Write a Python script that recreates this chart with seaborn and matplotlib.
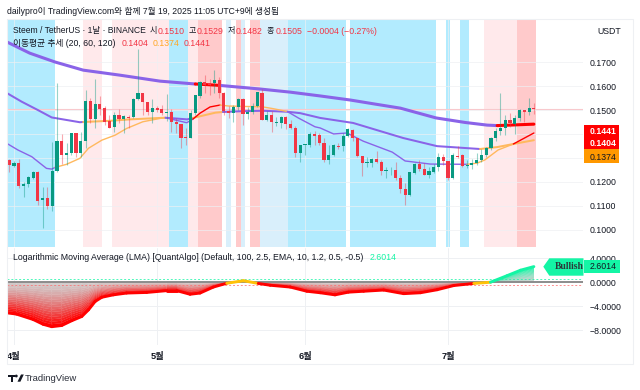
import numpy as np
import pandas as pd
import seaborn as sns
import matplotlib
matplotlib.use("Agg")
import matplotlib.pyplot as plt
from matplotlib.collections import PolyCollection, LineCollection
from matplotlib.patches import Rectangle, Polygon, Circle

sns.set_theme(style="white")
FAM = ["Liberation Sans", "Noto Sans CJK KR"]
plt.rcParams["font.family"] = FAM

# ---- candles: day index 0 = 31 Mar, 1 = 1 Apr ... 110 = 19 Jul
opens = [.1289,.1266,.1278,.1183,.1190,.1215,.1239,.1123,.1132,.1098,.1245,.1370,.1314,.1319,.1402,.1321,.1369,.1536,.1461,.1524,
         .1510,.1453,.1430,.1479,.1462,.1472,.1469,.1545,.1570,.1535,.1493,.1507,.1503,.1486,.1490,.1451,.1441,.1386,.1384,.1486,
         .1560,.1619,.1613,.1612,.1626,.1573,.1496,.1486,.1511,.1545,.1483,.1493,.1517,.1573,.1458,.1479,.1444,.1447,.1469,.1440,
         .1426,.1321,.1354,.1354,.1398,.1395,.1363,.1291,.1314,.1351,.1351,.1393,.1416,.1381,.1308,.1280,.1280,.1294,.1281,.1246,
         .1248,.1250,.1214,.1169,.1144,.1235,.1274,.1252,.1228,.1242,.1263,.1305,.1287,.1217,.1309,.1312,.1268,.1270,.1280,.1291,
         .1312,.1342,.1381,.1412,.1426,.1458,.1441,.1465,.1500,.1490,.1510]
highs = [.1294,.1285,.1294,.1197,.1224,.1245,.1245,.1176,.1179,.1367,.1613,.1400,.1363,.1402,.1402,.1408,.1584,.1549,.1628,.1560,
         .1515,.1479,.1490,.1503,.1479,.1479,.1549,.1755,.1570,.1535,.1545,.1517,.1521,.1566,.1503,.1465,.1441,.1423,.1500,.1563,
         .1621,.1646,.1632,.1667,.1639,.1577,.1517,.1521,.1552,.1552,.1511,.1528,.1577,.1587,.1497,.1497,.1472,.1476,.1475,.1458,
         .1433,.1354,.1358,.1409,.1414,.1402,.1381,.1354,.1356,.1361,.1402,.1423,.1420,.1384,.1308,.1302,.1301,.1327,.1291,.1260,
         .1260,.1281,.1228,.1193,.1242,.1277,.1291,.1277,.1263,.1273,.1319,.1315,.1287,.1319,.1351,.1315,.1291,.1295,.1319,.1335,
         .1347,.1388,.1423,.1570,.1479,.1486,.1479,.1504,.1500,.1549,.1529]
lows = [.1242,.1260,.1174,.1135,.1179,.1210,.1104,.1008,.1084,.1079,.1242,.1274,.1270,.1314,.1305,.1305,.1340,.1444,.1426,.1479,
        .1437,.1423,.1409,.1444,.1405,.1427,.1465,.1542,.1479,.1479,.1447,.1493,.1479,.1455,.1409,.1402,.1340,.1354,.1381,.1479,
        .1549,.1570,.1563,.1570,.1549,.1479,.1468,.1451,.1500,.1437,.1461,.1482,.1511,.1458,.1455,.1409,.1433,.1427,.1420,.1419,
        .1305,.1284,.1312,.1344,.1354,.1354,.1281,.1274,.1309,.1335,.1330,.1388,.1372,.1302,.1224,.1263,.1263,.1280,.1228,.1217,
        .1228,.1207,.1151,.1103,.1142,.1232,.1246,.1228,.1214,.1238,.1245,.1270,.1207,.1211,.1298,.1263,.1259,.1253,.1270,.1284,
        .1305,.1333,.1370,.1395,.1395,.1430,.1398,.1454,.1451,.1479,.1482]
closes = [.1270,.1278,.1183,.1190,.1218,.1239,.1121,.1132,.1098,.1246,.1370,.1314,.1320,.1402,.1321,.1369,.1536,.1461,.1525,.1506,
          .1450,.1427,.1479,.1461,.1475,.1468,.1546,.1570,.1532,.1493,.1507,.1500,.1486,.1493,.1448,.1440,.1381,.1381,.1486,.1563,
          .1619,.1605,.1603,.1626,.1570,.1497,.1488,.1514,.1545,.1482,.1493,.1517,.1574,.1458,.1479,.1448,.1451,.1472,.1440,.1423,
          .1321,.1354,.1358,.1398,.1391,.1363,.1291,.1314,.1354,.1347,.1393,.1419,.1381,.1308,.1277,.1284,.1294,.1281,.1243,.1250,
          .1250,.1214,.1169,.1144,.1239,.1273,.1252,.1228,.1246,.1263,.1305,.1287,.1217,.1312,.1305,.1266,.1272,.1280,.1291,.1312,
          .1342,.1381,.1412,.1426,.1458,.1444,.1465,.1500,.1493,.1507,.1505]

# ---- background regimes (first day, last day, kind)
zone_first = [0,10,16,20,22,34,38,40,45,46,47,48,49,50,51,53,59,71,72,90,92,93,95,97,100,107]
zone_last  = [9,15,19,21,33,37,39,44,45,46,47,48,49,50,52,58,70,71,89,91,92,94,96,99,106,110]
zone_kind  = ["b","w","l","w","l","b","l","s","w","p","w","s","p","w","s","p","b","w","b","w","b","w","b","w","l","s"]

# ---- moving averages, read as (day, price) vertices; colour per segment
ma120_x = [-.5,4.3,9.6,15.5,23.2,31.6,39,44.2,52.6,58.9,65.2,71.5,76.7,82,89.5,95.6,100.2,102.3,110]
ma120_y = [.1785,.1738,.1701,.1667,.1646,.1621,.1609,.1603,.1588,.1575,.1559,.1542,.1525,.1508,.1467,.1448,.1437,.1435,.1441]
ma120_c = ["p"]*6+["r"]+["p"]*10+["r"]

ma60_x = [-.5,2.6,6,8.9,14.8,15.5,21.1,25.3,32.7,37.3,38.5,43.2,44.8,48.4,53.2,58.3,61,65.2,72.1,82.6,89.7,98.7,102.3,105.7,110]
ma60_y = [.1571,.1535,.1500,.1469,.1449,.1450,.1455,.1461,.1468,.1461,.1467,.1489,.1492,.1495,.1497,.1493,.1487,.1467,.1446,.1383,.1349,.1337,.1345,.1358,.1374]
ma60_c = ["p"]*5+["o"]*3+["p"]*2+["o"]*2+["p"]*9+["o"]*3

ma20_x = [-.3,1.8,4.7,6.4,7.8,8.9,9.6,12,14.8,16.6,19.4,22.2,24.6,28,31.6,32.7,37.2,38.5,40,42.1,44.2,45.9,49.4,52.9,55,58.3,60.6,64.1,65.2,68,70.8,72.9,74.2,80.3,83,88.3,96,98.1,99.7,102.5,105.7,110]
ma20_y = [.1358,.1333,.1305,.1278,.1256,.1253,.1260,.1273,.1298,.1340,.1374,.1395,.1423,.1451,.1465,.1468,.1447,.1462,.1487,.1513,.1521,.1517,.1515,.1514,.1507,.1494,.1467,.1430,.1425,.1400,.1404,.1383,.1370,.1324,.1287,.1274,.1273,.1278,.1291,.1333,.1358,.1404]
ma20_c = ["p"]*6+["o"]*9+["p"]*2+["r"]*3+["o"]*5+["p"]*11+["o"]*4+["r"]

# ---- oscillator
lma_x = [-.4,1.5,5,7.1,8.9,11,13.1,15.2,16.6,18,19.4,21.8,24.6,28.8,33,35.1,37.9,40,42.8,45.6,49.1,52.2,54.7,58.9,62.4,65.2,68.3,71.1,74.3,78.5,82.7,86.2,89.7,93.2,97.4,100.9,104.4,107.2,110]
lma_y = [-5.1,-5.3,-6.2,-7.0,-7.4,-7.2,-6.4,-5.7,-4.6,-3.2,-2.5,-2.1,-1.8,-1.7,-1.4,-1.4,-2.0,-1.8,-.8,-.17,.25,-.2,-.5,-.8,-1.5,-1.75,-2.1,-1.65,-1.5,-1.3,-1.9,-1.75,-1.25,-.55,-.2,0,1.1,2.0,2.6014]

price_ticks = [.10,.11,.12,.15,.16,.17]
osc_ticks = [4,0,-4,-8]
month_pos = [1,31,62,92]
month_labels = ["4월","5월","6월","7월"]

W, H = 640, 390
GREEN, RED = "#089981", "#f23645"
PURPLE, ORANGE, BRIGHT = "#8a63e8", "#ffb95e", "#ff0000"
BULL = "#14f5a5"
ZONE = {"b":"#b2ebfe","p":"#d9effb","l":"#ffe9eb","s":"#ffcacb"}
LINE = {"p":PURPLE,"o":ORANGE,"r":BRIGHT}

fig = plt.figure(figsize=(W/100, H/100), dpi=100, facecolor="white")
def pane(x0, y0, x1, y1):
    return fig.add_axes([x0/W, 1-y1/H, (x1-x0)/W, (y1-y0)/H])

ax = pane(7, 19, 583, 247)
ax2 = pane(7, 248, 583, 345)
XL = (-.48, 120.3)

# ---- main pane
for a, b, k in zip(zone_first, zone_last, zone_kind):
    if k != "w":
        ax.axvspan(a-.5, b+.5, color=ZONE[k], lw=0, zorder=0)
for t in [.10,.11,.12,.13,.14,.15,.16,.17]:
    ax.axhline(t, color="#eef0f3", lw=.7, zorder=.5, alpha=.7)
for m in month_pos:
    ax.axvline(m, color="#eef0f3", lw=.7, zorder=.5, alpha=.7)
ax.axhline(closes[-1], color="#f8c9cd", lw=.8, zorder=.6)

def ma(x, y, cols, lw):
    s = 0
    n = len(x)
    for i in range(1, n):
        if i == n-1 or cols[i] != cols[s]:
            d = pd.DataFrame({"d": x[s:i+1], "p": y[s:i+1]})
            sns.lineplot(data=d, x="d", y="p", ax=ax, color=LINE[cols[s]], lw=lw,
                         sort=False, estimator=None, zorder=2, legend=False,
                         solid_capstyle="round")
            s = i

ma(ma120_x, ma120_y, ma120_c, 2.2)
ma(ma60_x, ma60_y, ma60_c, 1.45)
ma(ma20_x, ma20_y, ma20_c, 1.0)

days = np.arange(len(opens))
o, h, l, c = map(np.array, (opens, highs, lows, closes))
up = c >= o
cols = np.where(up, GREEN, RED)
ax.vlines(days, l, h, colors=cols, lw=.8, alpha=.42, zorder=3)
ax.bar(days, np.abs(c-o), bottom=np.minimum(o, c), width=.66, color=cols, lw=0, zorder=4)

ax.set_xlim(*XL)
ax.set_ylim(.0927, .1881)
ax.set_xticks([])
ax.yaxis.tick_right()
ax.set_yticks(price_ticks)
ax.set_yticklabels([f"{t:.4f}" for t in price_ticks], fontsize=6.3, color="#131722")
ax.tick_params(axis="y", length=0, pad=5)
ax.set_xlabel(""); ax.set_ylabel("")
for s in ax.spines.values():
    s.set_visible(False)

# ---- oscillator pane
for t in osc_ticks:
    if t != 0:
        ax2.axhline(t, color="#eef0f3", lw=.7, zorder=.5)
for m in month_pos:
    ax2.axvline(m, color="#eef0f3", lw=.7, zorder=.5)

def osc_col(v):
    if v >= .5: return np.array(matplotlib.colors.to_rgb(BULL))
    if v <= -.5: return np.array(matplotlib.colors.to_rgb(BRIGHT))
    return np.array(matplotlib.colors.to_rgb("#ffc107"))

polys, fc = [], []
N = 18
grey = np.array(matplotlib.colors.to_rgb("#cfcfcf"))
for i in range(len(lma_x)-1):
    xa, xb, ya, yb = lma_x[i], lma_x[i+1], lma_y[i], lma_y[i+1]
    col = osc_col(yb if abs(yb) > abs(ya) else ya)
    for k in range(N):
        t0, t1 = k/N, (k+1)/N
        polys.append([(xa, ya*t0), (xb, yb*t0), (xb, yb*t1), (xa, ya*t1)])
        fc.append(tuple(grey*(1-t1**1.4) + col*t1**1.4))
ax2.add_collection(PolyCollection(polys, facecolors=fc, edgecolors=fc, linewidths=.15, zorder=1))

ax2.axhline(0, color="#8c8c8c", lw=1.4, zorder=1.5)
ax2.axhline(.5, color=BULL, lw=.7, ls=(0, (2, 2)), alpha=.75, zorder=1.6)
ax2.axhline(-.5, color="#ff6b6b", lw=.7, ls=(0, (2, 2)), alpha=.75, zorder=1.6)

segs = [[(lma_x[i], lma_y[i]), (lma_x[i+1], lma_y[i+1])] for i in range(len(lma_x)-1)]
seg_cols = [osc_col(lma_y[i+1] if abs(lma_y[i+1]) > abs(lma_y[i]) else lma_y[i]) for i in range(len(segs))]
ax2.add_collection(LineCollection(segs, colors=seg_cols, linewidths=2.1, zorder=2, capstyle="round"))

ax2.set_xlim(*XL)
ax2.set_ylim(-10.45, 5.7)
ax2.yaxis.tick_right()
ax2.set_yticks(osc_ticks)
ax2.set_yticklabels([f"{t:.4f}".replace("-", "\u2212") for t in osc_ticks], fontsize=6.3, color="#131722")
ax2.tick_params(axis="y", length=0, pad=5)
ax2.set_xticks(month_pos)
ax2.set_xticklabels(month_labels, fontsize=6.6, color="#131722", fontweight="bold")
ax2.tick_params(axis="x", length=0, pad=5)
for s in ax2.spines.values():
    s.set_visible(False)

# ---- overlay in pixels for the annotations
ov = fig.add_axes([0, 0, 1, 1], zorder=10)
ov.set_xlim(0, W); ov.set_ylim(H, 0); ov.axis("off"); ov.patch.set_alpha(0)
ov.add_patch(Rectangle((7, 19), 626, 345, fill=False, ec="#eef0f3", lw=.8))

def txt(x, y, s, color="#131722", size=6.3, **kw):
    kw.setdefault("va", "center")
    kw.setdefault("ha", "left")
    ov.text(x, y, s, color=color, fontsize=size, family=kw.pop("family", FAM), **kw)

txt(7, 11, "dailypro이 TradingView.com와 함께 7월 19, 2025 11:05 UTC+9에 생성됨", size=6.22)
txt(13, 31, "Steem / TetherUS · 1날 · BINANCE", size=6.15)
for x, s in [(150, "시"), (189, "고"), (228, "저"), (267, "종")]:
    txt(x, 31, s, size=5.8)
for x, s in [(158, "0.1510"), (197, "0.1529"), (236, "0.1482"), (276, "0.1505"), (307, "\u22120.0004 (\u22120.27%)")]:
    txt(x, 31, s, color=RED)
txt(13, 43, "이동평균 추세 (20, 60, 120)")
txt(122, 43, "0.1404", color=RED)
txt(153, 43, "0.1374", color="#ffa726")
txt(184, 43, "0.1441", color=RED)
txt(597, 31, "USDT", size=6.3)

# value tags
ov.add_patch(Rectangle((584, 125.3), 35.3, 24, fc=BRIGHT, ec="none"))
ov.add_patch(Rectangle((584, 149.3), 35.3, 13.4, fc="#ff9800", ec="none"))
txt(590, 132, "0.1441", color="white", fontweight="bold")
txt(590, 144, "0.1404", color="white", fontweight="bold")
txt(590, 157, "0.1374", color="#131722")

# oscillator legend and label
txt(13, 258, "Logarithmic Moving Average (LMA) [QuantAlgo] (Default, 100, 2.5, EMA, 10, 1.2, 0.5, -0.5)")
txt(370, 258, "2.6014", color=BULL)
ov.add_patch(Polygon([(543.3, 266.7), (549.3, 258.3), (583.5, 258.3), (583.5, 275.7), (549.3, 275.7)], fc=BULL, ec="none"))
txt(555, 266.7, "Bullish", size=6.9, fontweight="bold", family=["Liberation Serif"], color="#2a3a3a")
ov.add_patch(Rectangle((584, 260), 36, 13.3, fc=BULL, ec="none"))
txt(590, 266.7, "2.6014", color="#131722")

# TradingView mark
ov.add_patch(Rectangle((7.5, 374.5), 7.5, 2.4, fc="#131722", ec="none"))
ov.add_patch(Rectangle((10.5, 374.5), 2.8, 7.2, fc="#131722", ec="none"))
ov.add_patch(Circle((16.3, 376), 1.4, fc="#131722", ec="none"))
ov.add_patch(Polygon([(17.5, 381.7), (21, 374.5), (23.8, 374.5), (20.4, 381.7)], fc="#131722", ec="none"))
txt(25, 378.5, "TradingView", size=6.8, color="#2a2e39")

fig.savefig("out.png", dpi=100, facecolor="white")
